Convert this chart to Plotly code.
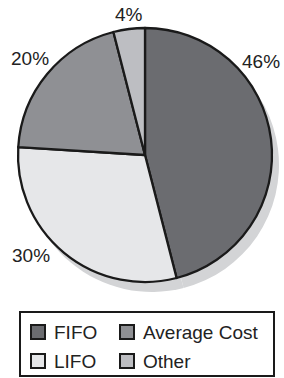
import plotly.graph_objects as go

labels = ["FIFO", "LIFO", "Average Cost", "Other"]
values = [46, 30, 20, 4]
colors = ["#6b6c70", "#e6e7e9", "#8f9094", "#bdbec2"]
legend_order = ["FIFO", "Average Cost", "LIFO", "Other"]

W, H = 284, 378
cx, cy, r = 145, 155, 127
sdx, sdy = 7, 10
# label centre positions (pixels) for the outside percentage labels
label_pos = {"FIFO": (261, 61), "LIFO": (31, 255), "Average Cost": (30, 58), "Other": (129, 15)}

def dom(cx, cy, r):
    return dict(x=[(cx - r) / W, (cx + r) / W], y=[1 - (cy + r) / H, 1 - (cy - r) / H])

fig = go.Figure()
# shadow
fig.add_trace(go.Pie(
    labels=labels, values=values, sort=False, direction="clockwise",
    marker=dict(colors=["#d3d4d6"] * 4, line=dict(width=0)),
    textinfo="none", hoverinfo="skip", showlegend=False,
    domain=dom(cx + sdx, cy + sdy, r),
))
fig.add_trace(go.Pie(
    labels=labels, values=values, sort=False, direction="clockwise",
    marker=dict(colors=colors, line=dict(color="#1a1a1a", width=2.3)),
    textinfo="none", showlegend=False,
    domain=dom(cx, cy, r),
))

font = "Liberation Sans"
fs = 19
annotations = []
total = sum(values)
for lab, v in zip(labels, values):
    px, py = label_pos[lab]
    annotations.append(dict(text=f"{round(100 * v / total)}%", xref="paper", yref="paper",
                            x=px / W, y=1 - py / H, xanchor="center", yanchor="middle",
                            showarrow=False, font=dict(size=fs, color="#222222", family=font)))

# manual legend
shapes = [dict(type="rect", xref="paper", yref="paper",
               x0=20 / W, x1=274 / W, y0=1 - 376 / H, y1=1 - 312 / H,
               line=dict(color="#1a1a1a", width=2), fillcolor="white")]
pos = [(31, 332), (120, 332), (31, 361), (120, 361)]
for name, (lx, ly) in zip(legend_order, pos):
    c = colors[labels.index(name)]
    shapes.append(dict(type="rect", xref="paper", yref="paper",
                       x0=lx / W, x1=(lx + 14) / W,
                       y0=1 - (ly + 7) / H, y1=1 - (ly - 7) / H,
                       line=dict(color="#1a1a1a", width=2), fillcolor=c))
    annotations.append(dict(text=name, xref="paper", yref="paper",
                            x=(lx + 21) / W, y=1 - ly / H, xanchor="left", yanchor="middle",
                            showarrow=False, font=dict(size=fs, color="#222222", family=font)))

fig.update_layout(
    width=W, height=H, margin=dict(l=0, r=0, t=0, b=0),
    paper_bgcolor="white", plot_bgcolor="white",
    font=dict(family=font, size=fs, color="#222222"),
    shapes=shapes, annotations=annotations, showlegend=False,
)
fig.write_html("out.html", config={"displayModeBar": False},
               post_script="document.body.style.margin='0';document.body.style.overflow='hidden';")
